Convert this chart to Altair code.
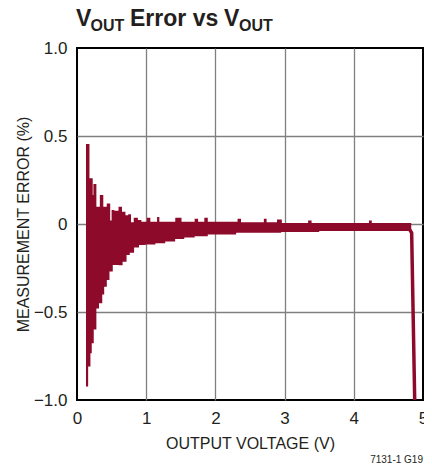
import altair as alt
import pandas as pd

# ---- data ----
# upper envelope of the noisy error trace (step starts, %)
up_x = [0.13, 0.18, 0.227, 0.237, 0.28, 0.33, 0.38, 0.43, 0.48, 0.50, 0.54, 0.60, 0.65,
        0.70, 0.74, 0.78, 0.82, 0.88, 0.93, 1.01, 1.06, 1.157, 1.19, 1.42, 1.51, 1.70,
        1.75, 1.84, 1.89, 2.32, 2.37, 2.70, 2.74, 2.89, 2.96, 3.34, 3.39, 4.22, 4.26, 4.83]
up_y = [0.455, 0.26, 0.165, 0.227, 0.098, 0.165, 0.098, 0.117, 0.02, 0.08, 0.075, 0.098, 0.07,
        0.05, 0.055, 0.01, 0.036, 0.023, 0.013, 0.036, 0.013, 0.04, 0.013, 0.036, 0.013, 0.03,
        0.013, 0.036, 0.013, 0.03, 0.01, 0.03, 0.01, 0.025, 0.005, 0.02, 0.005, 0.02, 0.005, 0.005]
# lower envelope (step starts, %)
lo_x = [0.13, 0.161, 0.194, 0.213, 0.242, 0.28, 0.318, 0.365, 0.393, 0.431, 0.469, 0.517,
        0.602, 0.659, 0.716, 0.763, 0.825, 0.896, 0.99, 1.133, 1.275, 1.418, 1.55, 1.70,
        1.89, 2.3, 2.95, 3.5, 4.83]
lo_y = [-0.924, -0.81, -0.735, -0.678, -0.60, -0.48, -0.45, -0.40, -0.356, -0.318, -0.27, -0.233,
        -0.235, -0.214, -0.176, -0.163, -0.133, -0.12, -0.117, -0.11, -0.10, -0.085, -0.076, -0.07,
        -0.06, -0.05, -0.045, -0.04, -0.04]
# drop-off near full scale
tail_x = [4.78, 4.836, 4.88]
tail_y = [-0.015, -0.05, -1.0]

x_ticks = [0, 1, 2, 3, 4, 5]
y_ticks = [-1.0, -0.5, 0.0, 0.5, 1.0]

RED = "#8E0A2B"
INK = "#231F20"
FONT = "Liberation Sans, Arial, Helvetica, sans-serif"

up_df = pd.DataFrame({"x": up_x, "y": up_y, "z": [0.0] * len(up_x)})
lo_df = pd.DataFrame({"x": lo_x, "y": lo_y, "z": [0.0] * len(lo_x)})
tail_df = pd.DataFrame({"x": tail_x, "y": tail_y})

xs = alt.Scale(domain=[0, 5], nice=False, zero=False)
ys = alt.Scale(domain=[-1, 1], nice=False, zero=False)

grid_op_x = {"condition": {"test": "datum.value == 0 || datum.value == 5", "value": 0}, "value": 1}
grid_op_y = {"condition": {"test": "datum.value == -1 || datum.value == 1", "value": 0}, "value": 1}

xax = alt.Axis(values=x_ticks, format="d", title="OUTPUT VOLTAGE (V)", grid=True, ticks=False,
               domain=False, labelFlush=False,
               labelFont=FONT, labelFontSize=17, labelColor=INK, labelPadding=10,
               titleFont=FONT, titleFontSize=16, titleFontWeight="normal", titleColor=INK,
               titlePadding=9, gridColor="#7f7f7f", gridWidth=1.3, gridOpacity=grid_op_x)
yax = alt.Axis(values=y_ticks, title="MEASUREMENT ERROR (%)", grid=True, ticks=False, domain=False,
               labelFlush=False,
               labelExpr="datum.value == 0 ? '0' : replace(format(datum.value, '.1f'), '-', '\u2013')",
               labelFont=FONT, labelFontSize=17, labelColor=INK, labelPadding=10,
               titleFont=FONT, titleFontSize=16, titleFontWeight="normal", titleColor=INK,
               titlePadding=2, gridColor="#7f7f7f", gridWidth=1.3, gridOpacity=grid_op_y)

upper = alt.Chart(up_df).mark_area(color=RED, interpolate="step-after").encode(
    x=alt.X("x:Q", scale=xs, axis=xax), y=alt.Y("y:Q", scale=ys, axis=yax), y2="z:Q")
lower = alt.Chart(lo_df).mark_area(color=RED, interpolate="step-after").encode(
    x=alt.X("x:Q", scale=xs), y=alt.Y("y:Q", scale=ys), y2="z:Q")
tail = alt.Chart(tail_df).mark_line(color=RED, strokeWidth=3.5).encode(
    x=alt.X("x:Q", scale=xs), y=alt.Y("y:Q", scale=ys))

one = pd.DataFrame({"k": [0]})


def txt(s, x, y, size, bold=True, align="left"):
    return alt.Chart(one).mark_text(text=s, font=FONT, fontSize=size,
                                    fontWeight="bold" if bold else "normal",
                                    align=align, baseline="alphabetic", color=INK).encode(
        x=alt.value(x), y=alt.value(y))


title = (txt("V", -1, -22, 23) + txt("OUT", 13.5, -17, 16) + txt("Error vs", 53, -22, 23)
         + txt("V", 147, -22, 23) + txt("OUT", 162, -17, 16))
footer = txt("7131-1 G19", 346, 415, 10, bold=False, align="right")

chart = alt.layer(upper, lower, tail, title, footer).properties(
    width=346, height=352,
    padding={"left": 69, "top": 40, "right": 1, "bottom": 64},
    autosize="none",
).configure_view(stroke="black", strokeWidth=2)

chart.save("out.html", embed_options={"renderer": "svg", "actions": False})
